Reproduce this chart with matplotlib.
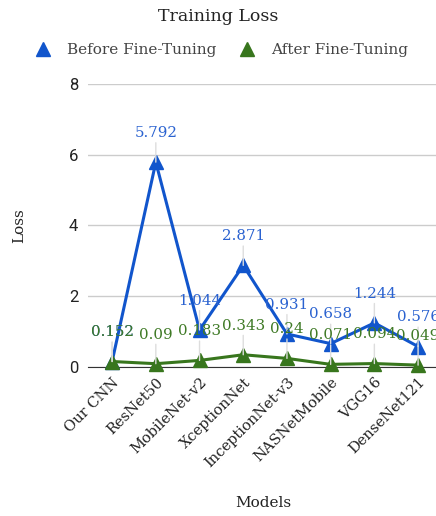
import numpy as np
import matplotlib.pyplot as plt
from matplotlib.lines import Line2D

models = ['Our CNN', 'ResNet50', 'MobileNet-v2', 'XceptionNet',
          'InceptionNet-v3', 'NASNetMobile', 'VGG16', 'DenseNet121']
before_ft = [0.152, 5.792, 1.044, 2.871, 0.931, 0.658, 1.244, 0.576]
after_ft = [0.152, 0.09, 0.183, 0.343, 0.24, 0.071, 0.094, 0.049]

blue = '#1155cc'
green = '#38761d'
serif = 'DejaVu Serif'

fig = plt.figure(figsize=(4.36, 5.16), dpi=100)
ax = fig.add_axes([0.202, 0.289, 0.798, 0.548])

x = np.arange(len(models))
ax.plot(x, before_ft, color=blue, lw=2.2, marker='^', ms=10, zorder=3, clip_on=False)
ax.plot(x, after_ft, color=green, lw=2.2, marker='^', ms=10, zorder=4, clip_on=False)

# value labels sit on a thin stem above each point
for vals, col in [(before_ft, '#2a62d0'), (after_ft, '#3f7a26')]:
    for i, v in enumerate(vals):
        ax.annotate(f'{v:g}', (i, v), xytext=(0, 21), textcoords='offset points',
                    ha='center', va='center', color=col, fontsize=10.8,
                    family=serif, zorder=5, annotation_clip=False,
                    arrowprops=dict(arrowstyle='-', color='#dddddd', lw=1,
                                    shrinkA=0, shrinkB=0))

ax.set_xlim(-0.55, 7.41)
ax.set_ylim(0, 8)
ax.set_yticks([0, 2, 4, 6, 8])
ax.set_yticklabels(['0', '2', '4', '6', '8'], family='Roboto', fontsize=12, color='#222222')
ax.tick_params(axis='y', length=0, pad=7)
ax.set_xticks(x)
ax.set_xticklabels(models, rotation=45, ha='right', rotation_mode='anchor',
                   family=serif, fontsize=10.5, color='#222222')
ax.tick_params(axis='x', length=0, pad=6)
ax.grid(axis='y', color='#cccccc', lw=1)
ax.set_axisbelow(True)
for s in ['top', 'right', 'left']:
    ax.spines[s].set_visible(False)
ax.spines['bottom'].set_color('#333333')

ax.set_ylabel('Loss', family=serif, fontsize=11, color='#222222', labelpad=31)
fig.text(0.605, 0.017, 'Models', family=serif, fontsize=11, color='#222222', ha='center')
fig.text(0.5, 0.968, 'Training Loss', family=serif, fontsize=12.5, color='#222222',
         ha='center', va='center')

handles = [Line2D([], [], color=blue, marker='^', ls='none', ms=10),
           Line2D([], [], color=green, marker='^', ls='none', ms=10)]
fig.legend(handles, ['Before Fine-Tuning', 'After Fine-Tuning'], loc='center',
           bbox_to_anchor=(0.5, 0.903), ncol=2, frameon=False,
           prop={'family': serif, 'size': 11}, handletextpad=0.6, columnspacing=1.0,
           labelcolor='#444444')

fig.savefig('out.png', dpi=100)
